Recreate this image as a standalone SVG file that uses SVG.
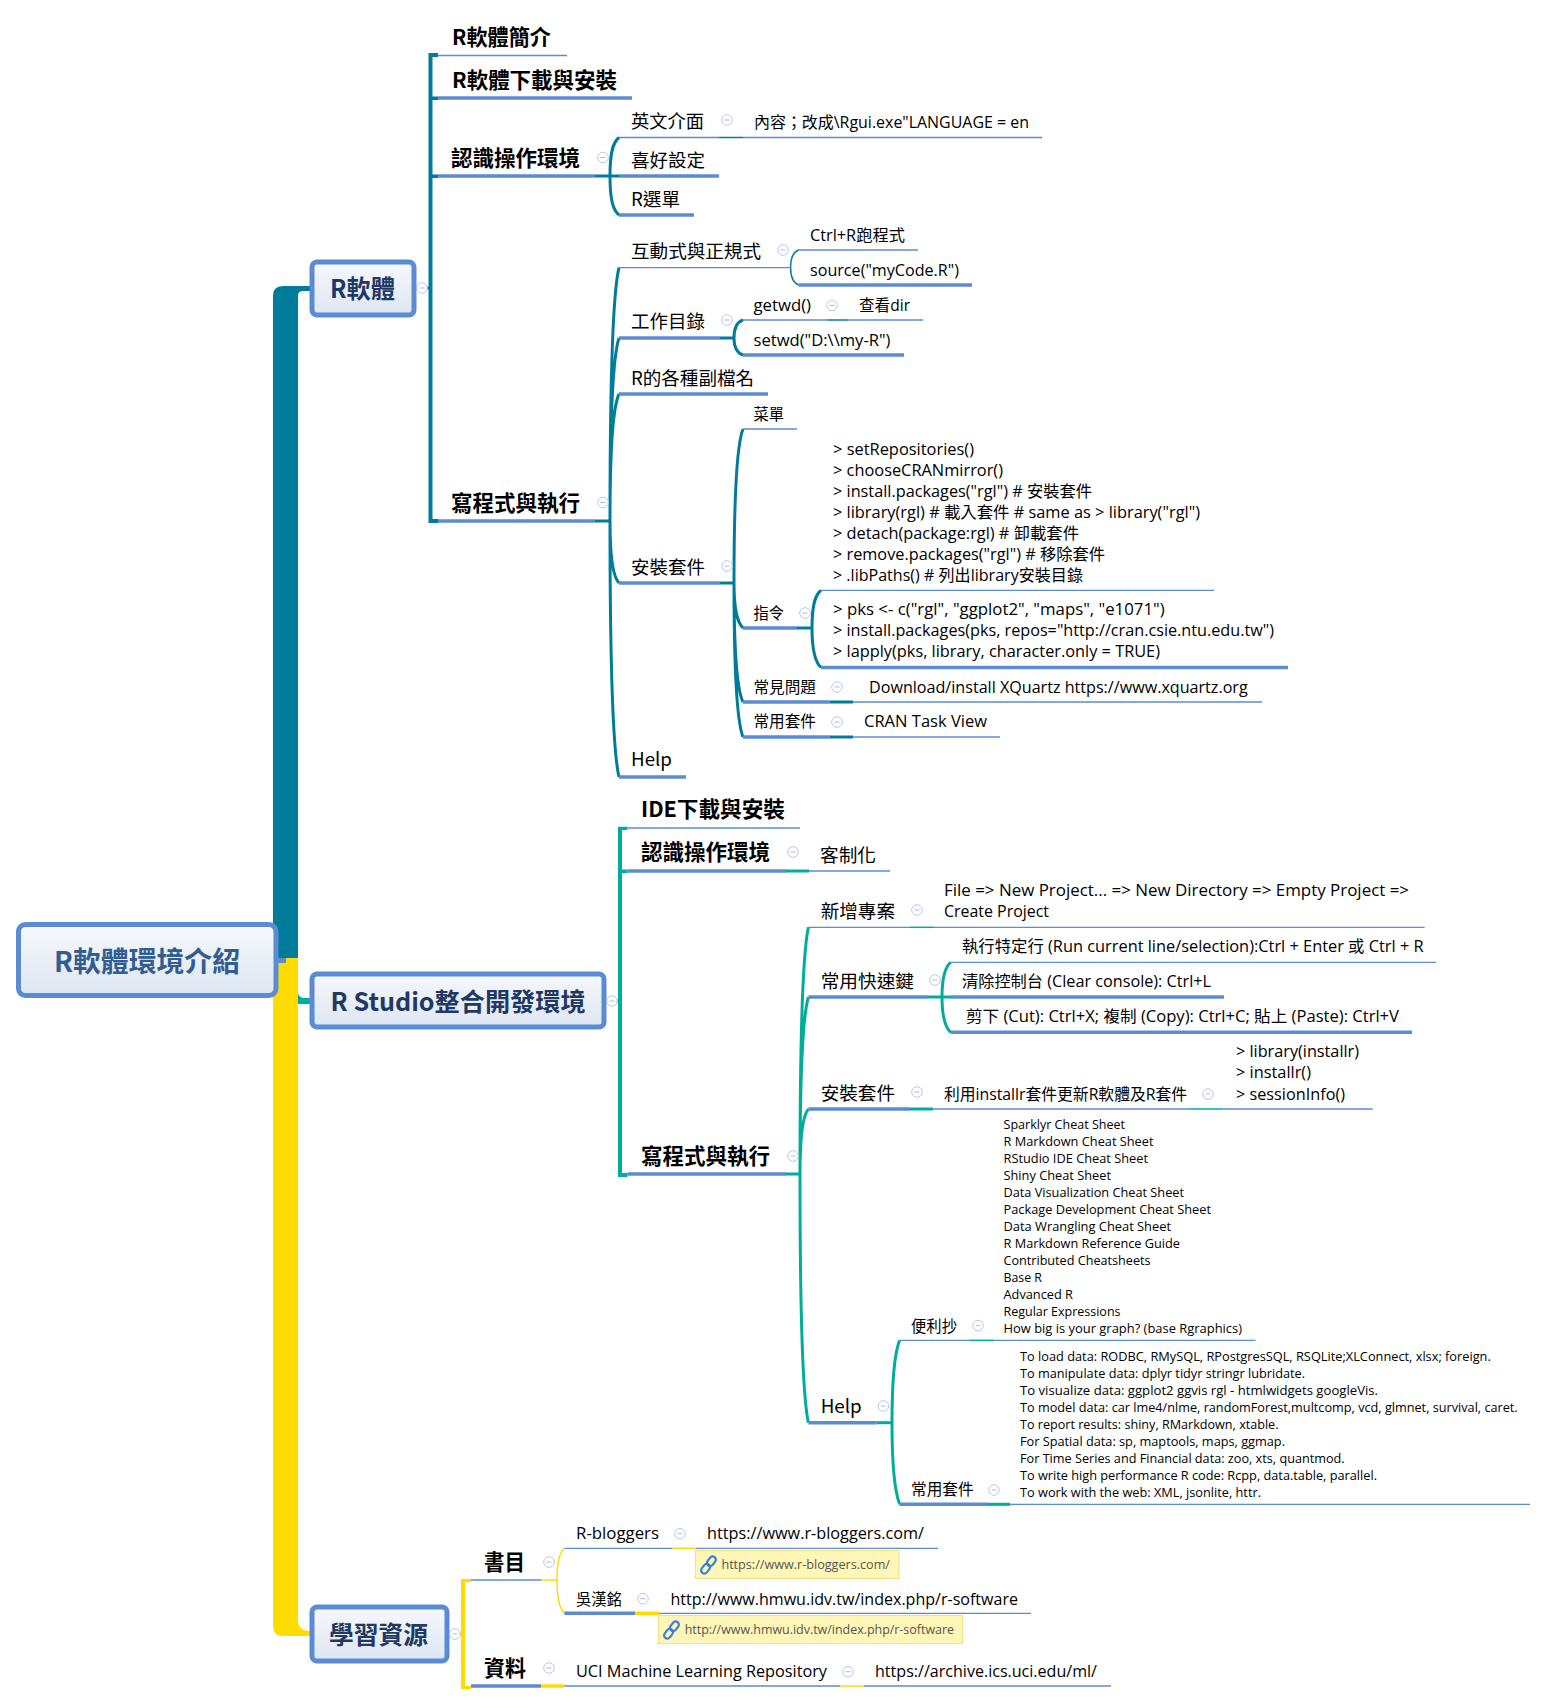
<svg xmlns="http://www.w3.org/2000/svg" width="1548" height="1704" viewBox="0 0 1548 1704">
<style>
text{font-family:"Open Sans","Noto Sans CJK TC","Noto Sans",sans-serif;fill:#000;transform:translate(-1px,-.5px)}
.h{font-size:21.5px;font-weight:700;font-family:"Noto Sans CJK TC","Noto Sans",sans-serif}
.m{font-size:18.5px;font-family:"Noto Sans CJK TC","Noto Sans",sans-serif}
.s{font-size:16px}
.x{font-size:13px;transform:translate(-1px,-1.2px)}
.r{font-weight:700;fill:#1f3864;font-size:25px;font-family:"Noto Sans CJK TC","Noto Sans",sans-serif}
.n{font-size:12.5px;fill:#555}
.b{fill:url(#bg);stroke:#5b8bd3;stroke-width:5}
.u,.U,.ct,.cg,.cy,.Ct,.Cg,.Cy{fill:none}
.u{stroke:#5b8bd3;stroke-width:1.3}
.U{stroke:#5b8bd3;stroke-width:3.4}
.ct{stroke:#007c9b;stroke-width:1.5}
.Ct{stroke:#007c9b;stroke-width:3}
.cg{stroke:#00ad9c;stroke-width:1.5}
.Cg{stroke:#00ad9c;stroke-width:3}
.cy{stroke:#ffdb00;stroke-width:1.5}
.Cy{stroke:#ffdb00;stroke-width:3.4}
.note{fill:#fff6b8;stroke:#f5df85;stroke-width:1}
</style>
<defs>
<linearGradient id="bg" x1="0" y1="0" x2="0" y2="1"><stop offset="0" stop-color="#f6f8fc"/><stop offset="1" stop-color="#dde6f2"/></linearGradient>
<g id="c"><circle r="5.3" fill="#fff" stroke="#b7c8ea" stroke-width="1"/><path d="M-2.5 0H2.5" stroke="#a9bce4" stroke-width="1"/></g>
<g id="link" fill="none" stroke="#3a80d8" stroke-width="2.2"><rect x="-3.2" y="-10" width="6.4" height="10.5" rx="3.2" transform="rotate(38)"/><rect x="-3.2" y="-.5" width="6.4" height="10.5" rx="3.2" transform="rotate(38)"/></g>
</defs>

<g id="connectors">
<path fill="#007c9b" d="M273 960V296Q273 286 283 286H310V291H303Q298 291 298 296V960Z"/>
<path fill="#ffdb00" d="M273 958H298V1620Q298 1631 310 1631V1636H283Q273 1636 273 1626Z"/>
<path fill="#00ad9c" d="M298 993Q299 998 305 998H311V1004H298Z"/>
<path fill="#5b8bd3" d="M277 958H286V963H277Z"/>
<path class="Ct" d="M416 288H430"/>
<path class="Cg" d="M606 1001H620"/>
<path class="Cy" d="M449 1634H463"/>
<!-- brackets -->
<path fill="#007c9b" d="M428.5 53H438V57H432.5V519H438V523H428.5Z"/>
<path fill="#007c9b" d="M432 96.5H438V100H432ZM432 174.5H438V178H432Z"/>
<path fill="#00ad9c" d="M618 826.7H627.5V830H622V1173H627.5V1177H618Z"/>
<path fill="#00ad9c" d="M621.5 869.5H627.5V873H621.5Z"/>
<path fill="#ffdb00" d="M461 1579H471V1582H465V1686H471V1689H461Z"/>
<!-- R 軟體 curves -->
<path class="Ct" d="M610 176C610 152 613 142 619 137.5M610 176C610 200 613 210 619 215"/>
<path class="Ct" d="M610 521C610 369 613 292 619 267.6M610 521C610 411 613 356 619 338M610 521C610 445 613 407 619 394M610 521C610 558 613 577 619 583M610 521C610 675 613 751 619 777"/>
<path class="ct" d="M790.6 267.6C790.6 257 793 252 798.7 250M790.6 267.6C790.6 277 793 283 798.7 285"/>
<path class="Ct" d="M734 338C734 327 737 322 743 320M734 338C734 348 737 353 743 355"/>
<path class="Ct" d="M734 583C734 491 737 444 743 429M734 583C734 610 737 622 743 628M734 583C734 654 737 690 743 702M734 583C734 675 737 722 743 737"/>
<path class="Ct" d="M812 628C812 605 815 595 821 590.4M812 628C812 650 815 662 821 667.5"/>
<!-- R Studio curves -->
<path class="Cg" d="M800 1174C800 1026 803 952 808.4 927.3M800 1174C800 1068 803 1015 808.4 997M800 1174C800 1135 803 1115 808.4 1109M800 1174C800 1323 803 1398 808.4 1422.7"/>
<path class="Cg" d="M942 997C942 977 945 967 950.6 962.3M942 997C942 1017 945 1027 950.6 1032.3"/>
<path class="Cg" d="M892 1423C892 1375 895 1352 899.6 1340.3M892 1423C892 1470 895 1492 899.6 1504.3"/>
<!-- 學習資源 curves -->
<path class="cy" d="M557 1580C557 1562 560 1552 564.4 1548.3M557 1580C557 1598 560 1609 564.4 1613.3"/>
</g>

<g id="root"><rect class="b" x="18.5" y="924.5" width="257.5" height="71" rx="7"/><text x="55" y="972" style="font-size:28px;font-weight:700;fill:#335c8f;font-family:'Noto Sans CJK TC',sans-serif" textLength="186" lengthAdjust="spacingAndGlyphs">R軟體環境介紹</text></g>

<g id="n-r"><rect class="b" x="312" y="262" width="102" height="53" rx="5"/><text class="r" x="331" y="298" textLength="65" lengthAdjust="spacingAndGlyphs">R軟體</text><use href="#c" x="422" y="288"/></g>
<g id="n-rstudio"><rect class="b" x="312" y="974" width="292" height="53" rx="5"/><text class="r" x="331.6" y="1011.5" textLength="255" lengthAdjust="spacingAndGlyphs">R Studio整合開發環境</text><use href="#c" x="612" y="1001"/></g>
<g id="n-learn"><rect class="b" x="312" y="1607" width="135" height="54" rx="5"/><text class="r" x="330" y="1644.5" textLength="99" lengthAdjust="spacingAndGlyphs">學習資源</text><use href="#c" x="455" y="1634"/></g>

<g id="n1"><text class="h" x="453" y="45" textLength="99" lengthAdjust="spacingAndGlyphs">R軟體簡介</text><path class="u" d="M438 55.5H567"/></g>
<g id="n2"><text class="h" x="453" y="88" textLength="165" lengthAdjust="spacingAndGlyphs">R軟體下載與安裝</text><path class="U" d="M438 98H632"/></g>
<g id="n3"><text class="h" x="452" y="166" textLength="129" lengthAdjust="spacingAndGlyphs">認識操作環境</text><path class="U" d="M438 176H595"/><path class="Ct" d="M595 176H619"/><use href="#c" x="603" y="157.5"/></g>
<g id="n4"><text class="h" x="452" y="511" textLength="129" lengthAdjust="spacingAndGlyphs">寫程式與執行</text><path class="U" d="M438 521H595"/><path class="Ct" d="M595 521H610"/><use href="#c" x="603" y="502.5"/></g>

<g id="n31"><text class="m" x="632" y="128.5" textLength="73" lengthAdjust="spacingAndGlyphs">英文介面</text><path class="u" d="M619 137.5H719"/><path class="ct" d="M719 137.5H743"/><use href="#c" x="727" y="120"/></g>
<g id="n311"><text class="s" x="755" y="128" textLength="275" lengthAdjust="spacingAndGlyphs">內容；改成\Rgui.exe"LANGUAGE = en</text><path class="u" d="M743 137.5H1042"/></g>
<g id="n32"><text class="m" x="632" y="167" textLength="74" lengthAdjust="spacingAndGlyphs">喜好設定</text><path class="U" d="M619 176H719"/></g>
<g id="n33"><text class="m" x="632" y="206" textLength="49" lengthAdjust="spacingAndGlyphs">R選單</text><path class="U" d="M619 215H694"/></g>

<g id="n41"><text class="m" x="632" y="258" textLength="130" lengthAdjust="spacingAndGlyphs">互動式與正規式</text><path class="u" d="M619 267.6H790.6"/><use href="#c" x="783" y="250"/></g>
<g id="n411"><text class="s" x="811" y="241" textLength="95" lengthAdjust="spacingAndGlyphs">Ctrl+R跑程式</text><path class="u" d="M798 250H918"/></g>
<g id="n412"><text class="s" x="811" y="276" textLength="149" lengthAdjust="spacingAndGlyphs">source("myCode.R")</text><path class="U" d="M798.7 285H972"/></g>
<g id="n42"><text class="m" x="632" y="328" textLength="74" lengthAdjust="spacingAndGlyphs">工作目錄</text><path class="U" d="M619 338H720"/><path class="Ct" d="M720 338H734"/><use href="#c" x="727" y="320"/></g>
<g id="n421"><text class="s" x="754.5" y="311" textLength="57.5" lengthAdjust="spacingAndGlyphs">getwd()</text><path class="u" d="M743 320H827"/><path class="ct" d="M827 320H848"/><use href="#c" x="832" y="305.5"/></g>
<g id="n4211"><text class="s" x="860" y="311" textLength="51" lengthAdjust="spacingAndGlyphs">查看dir</text><path class="u" d="M848 320H923"/></g>
<g id="n422"><text class="s" x="754.5" y="346" textLength="137" lengthAdjust="spacingAndGlyphs">setwd("D:\\my-R")</text><path class="U" d="M743 355H904"/></g>
<g id="n43"><text class="m" x="632" y="385" textLength="123" lengthAdjust="spacingAndGlyphs">R的各種副檔名</text><path class="U" d="M619 394H768"/></g>
<g id="n44"><text class="m" x="632" y="574.5" textLength="74" lengthAdjust="spacingAndGlyphs">安裝套件</text><path class="U" d="M619 583H720"/><path class="Ct" d="M720 583H734"/><use href="#c" x="727" y="566"/></g>
<g id="n441"><text class="s" x="754.5" y="420" textLength="30.5" lengthAdjust="spacingAndGlyphs">菜單</text><path class="u" d="M743 429H797"/></g>
<g id="n442"><text class="s" x="754.5" y="619" textLength="30.5" lengthAdjust="spacingAndGlyphs">指令</text><path class="U" d="M743 628H797"/><path class="Ct" d="M797 628H812"/><use href="#c" x="805" y="613"/></g>
<g id="n4421">
<text class="s" x="834" y="455" textLength="141" lengthAdjust="spacingAndGlyphs">&gt; setRepositories()</text>
<text class="s" x="834" y="476" textLength="170" lengthAdjust="spacingAndGlyphs">&gt; chooseCRANmirror()</text>
<text class="s" x="834" y="497" textLength="259" lengthAdjust="spacingAndGlyphs">&gt; install.packages("rgl") # 安裝套件</text>
<text class="s" x="834" y="518" textLength="367" lengthAdjust="spacingAndGlyphs">&gt; library(rgl) # 載入套件 # same as &gt; library("rgl")</text>
<text class="s" x="834" y="539" textLength="246" lengthAdjust="spacingAndGlyphs">&gt; detach(package:rgl) # 卸載套件</text>
<text class="s" x="834" y="560" textLength="272" lengthAdjust="spacingAndGlyphs">&gt; remove.packages("rgl") # 移除套件</text>
<text class="s" x="834" y="581" textLength="250" lengthAdjust="spacingAndGlyphs">&gt; .libPaths() # 列出library安裝目錄</text>
<path class="u" d="M821 590.4H1214"/></g>
<g id="n4422">
<text class="s" x="834" y="615.5" textLength="331.6" lengthAdjust="spacingAndGlyphs">&gt; pks &lt;- c("rgl", "ggplot2", "maps", "e1071")</text>
<text class="s" x="834" y="636.5" textLength="441" lengthAdjust="spacingAndGlyphs">&gt; install.packages(pks, repos="http://cran.csie.ntu.edu.tw")</text>
<text class="s" x="834" y="657.5" textLength="327" lengthAdjust="spacingAndGlyphs">&gt; lapply(pks, library, character.only = TRUE)</text>
<path class="U" d="M821 667.5H1288"/></g>
<g id="n443"><text class="s" x="754.5" y="693" textLength="62.5" lengthAdjust="spacingAndGlyphs">常見問題</text><path class="U" d="M743 702H829.5"/><path class="Ct" d="M829.5 702H853"/><use href="#c" x="837" y="687"/></g>
<g id="n4431"><text class="s" x="870" y="693" textLength="378.7" lengthAdjust="spacingAndGlyphs">Download/install XQuartz https://www.xquartz.org</text><path class="u" d="M853 702H1262"/></g>
<g id="n444"><text class="s" x="754.5" y="727" textLength="62.5" lengthAdjust="spacingAndGlyphs">常用套件</text><path class="U" d="M743 737H829.5"/><path class="Ct" d="M829.5 737H853"/><use href="#c" x="837" y="722"/></g>
<g id="n4441"><text class="s" x="865" y="727" textLength="123" lengthAdjust="spacingAndGlyphs">CRAN Task View</text><path class="u" d="M853 737H1000"/></g>
<g id="n45"><text class="m" x="632" y="766.5" textLength="41" lengthAdjust="spacingAndGlyphs">Help</text><path class="U" d="M619 777H686"/></g>

<g id="s1"><text class="h" x="642" y="817" textLength="144" lengthAdjust="spacingAndGlyphs">IDE下載與安裝</text><path class="u" d="M627.5 828H800"/></g>
<g id="s2"><text class="h" x="642" y="860" textLength="129" lengthAdjust="spacingAndGlyphs">認識操作環境</text><path class="U" d="M627.5 871H786"/><path class="Cg" d="M786 871H809"/><use href="#c" x="793" y="852"/></g>
<g id="s21"><text class="m" x="821" y="862" textLength="56" lengthAdjust="spacingAndGlyphs">客制化</text><path class="u" d="M809 871H890"/></g>
<g id="s3"><text class="h" x="642" y="1164.5" textLength="129" lengthAdjust="spacingAndGlyphs">寫程式與執行</text><path class="U" d="M627.5 1174H786"/><path class="Cg" d="M786 1174H800"/><use href="#c" x="793" y="1156"/></g>

<g id="s31"><text class="m" x="821.7" y="918" textLength="74.3" lengthAdjust="spacingAndGlyphs">新增專案</text><path class="u" d="M808.4 927.3H910"/><path class="cg" d="M910 927.3H933"/><use href="#c" x="917" y="910"/></g>
<g id="s311"><text class="s" x="945" y="896" textLength="465" lengthAdjust="spacingAndGlyphs">File =&gt; New Project... =&gt; New Directory =&gt; Empty Project =&gt;</text><text class="s" x="945" y="917" textLength="105" lengthAdjust="spacingAndGlyphs">Create Project</text><path class="u" d="M933 927.3H1424.6"/></g>
<g id="s32"><text class="m" x="821.7" y="988" textLength="93.3" lengthAdjust="spacingAndGlyphs">常用快速鍵</text><path class="U" d="M808.4 997H927"/><path class="Cg" d="M927 997H951"/><use href="#c" x="935" y="980"/></g>
<g id="s321"><text class="s" x="963" y="952.5" textLength="461.6" lengthAdjust="spacingAndGlyphs">執行特定行 (Run current line/selection):Ctrl + Enter 或 Ctrl + R</text><path class="u" d="M950.6 962.3H1436"/></g>
<g id="s322"><text class="s" x="963" y="987.5" textLength="249" lengthAdjust="spacingAndGlyphs">清除控制台 (Clear console): Ctrl+L</text><path class="U" d="M951 997H1224"/></g>
<g id="s323"><text class="s" x="967" y="1022.5" textLength="433" lengthAdjust="spacingAndGlyphs">剪下 (Cut): Ctrl+X; 複制 (Copy): Ctrl+C; 貼上 (Paste): Ctrl+V</text><path class="U" d="M950.6 1032.3H1412"/></g>
<g id="s33"><text class="m" x="821.7" y="1100" textLength="74.3" lengthAdjust="spacingAndGlyphs">安裝套件</text><path class="U" d="M808.4 1109H909"/><path class="Cg" d="M909 1109H933"/><use href="#c" x="917" y="1092"/></g>
<g id="s331"><text class="s" x="945" y="1100" textLength="243" lengthAdjust="spacingAndGlyphs">利用installr套件更新R軟體及R套件</text><path class="u" d="M933 1109H1188"/><path class="cg" d="M1188 1109H1223.6"/><use href="#c" x="1208" y="1094"/></g>
<g id="s3311"><text class="s" x="1237" y="1057.5" textLength="123" lengthAdjust="spacingAndGlyphs">&gt; library(installr)</text><text class="s" x="1237" y="1078.5" textLength="75" lengthAdjust="spacingAndGlyphs">&gt; installr()</text><text class="s" x="1237" y="1100" textLength="109" lengthAdjust="spacingAndGlyphs">&gt; sessionInfo()</text><path class="u" d="M1223.6 1109H1372.6"/></g>
<g id="s34"><text class="m" x="821.7" y="1413" textLength="41" lengthAdjust="spacingAndGlyphs">Help</text><path class="U" d="M808.4 1422.7H876.6"/><path class="Cg" d="M876.6 1422.7H892"/><use href="#c" x="883.4" y="1406"/></g>
<g id="s341"><text class="s" x="912" y="1332" textLength="46" lengthAdjust="spacingAndGlyphs">便利抄</text><path class="u" d="M899.6 1340.3H970"/><path class="cg" d="M970 1340.3H994"/><use href="#c" x="978" y="1325.7"/></g>
<g id="s3411">
<text class="x" x="1004.5" y="1130.5" textLength="121.5" lengthAdjust="spacingAndGlyphs">Sparklyr Cheat Sheet</text>
<text class="x" x="1004.5" y="1147.5" textLength="150" lengthAdjust="spacingAndGlyphs">R Markdown Cheat Sheet</text>
<text class="x" x="1004.5" y="1164.5" textLength="144.5" lengthAdjust="spacingAndGlyphs">RStudio IDE Cheat Sheet</text>
<text class="x" x="1004.5" y="1181.5" textLength="107.5" lengthAdjust="spacingAndGlyphs">Shiny Cheat Sheet</text>
<text class="x" x="1004.5" y="1198.5" textLength="180.5" lengthAdjust="spacingAndGlyphs">Data Visualization Cheat Sheet</text>
<text class="x" x="1004.5" y="1215.5" textLength="207.5" lengthAdjust="spacingAndGlyphs">Package Development Cheat Sheet</text>
<text class="x" x="1004.5" y="1232.5" textLength="167.5" lengthAdjust="spacingAndGlyphs">Data Wrangling Cheat Sheet</text>
<text class="x" x="1004.5" y="1249.5" textLength="176.5" lengthAdjust="spacingAndGlyphs">R Markdown Reference Guide</text>
<text class="x" x="1004.5" y="1266.5" textLength="147" lengthAdjust="spacingAndGlyphs">Contributed Cheatsheets</text>
<text class="x" x="1004.5" y="1283.5" textLength="38.5" lengthAdjust="spacingAndGlyphs">Base R</text>
<text class="x" x="1004.5" y="1300.5" textLength="69.5" lengthAdjust="spacingAndGlyphs">Advanced R</text>
<text class="x" x="1004.5" y="1317.5" textLength="117" lengthAdjust="spacingAndGlyphs">Regular Expressions</text>
<text class="x" x="1004.5" y="1334.5" textLength="238.5" lengthAdjust="spacingAndGlyphs">How big is your graph? (base Rgraphics)</text>
<path class="u" d="M994 1340.3H1255.5"/></g>
<g id="s342"><text class="s" x="912" y="1495.5" textLength="62.6" lengthAdjust="spacingAndGlyphs">常用套件</text><path class="U" d="M899.6 1504.3H987"/><path class="Cg" d="M987 1504.3H1010"/><use href="#c" x="994" y="1490"/></g>
<g id="s3421">
<text class="x" x="1021" y="1362.5" textLength="470.8" lengthAdjust="spacingAndGlyphs">To load data: RODBC, RMySQL, RPostgresSQL, RSQLite;XLConnect, xlsx; foreign.</text>
<text class="x" x="1021" y="1379.5" textLength="285" lengthAdjust="spacingAndGlyphs">To manipulate data: dplyr tidyr stringr lubridate.</text>
<text class="x" x="1021" y="1396.5" textLength="358" lengthAdjust="spacingAndGlyphs">To visualize data: ggplot2 ggvis rgl - htmlwidgets googleVis.</text>
<text class="x" x="1021" y="1413.5" textLength="497.7" lengthAdjust="spacingAndGlyphs">To model data: car lme4/nlme, randomForest,multcomp, vcd, glmnet, survival, caret.</text>
<text class="x" x="1021" y="1430.5" textLength="258.5" lengthAdjust="spacingAndGlyphs">To report results: shiny, RMarkdown, xtable.</text>
<text class="x" x="1021" y="1447.5" textLength="265" lengthAdjust="spacingAndGlyphs">For Spatial data: sp, maptools, maps, ggmap.</text>
<text class="x" x="1021" y="1464.5" textLength="324.7" lengthAdjust="spacingAndGlyphs">For Time Series and Financial data: zoo, xts, quantmod.</text>
<text class="x" x="1021" y="1481.5" textLength="357" lengthAdjust="spacingAndGlyphs">To write high performance R code: Rcpp, data.table, parallel.</text>
<text class="x" x="1021" y="1498.5" textLength="241" lengthAdjust="spacingAndGlyphs">To work with the web: XML, jsonlite, httr.</text>
<path class="u" d="M1010 1504.3H1530"/></g>

<g id="l1"><text class="h" x="485" y="1570" textLength="41" lengthAdjust="spacingAndGlyphs">書目</text><path class="u" d="M471 1580H541"/><path class="cy" d="M541 1580H557"/><use href="#c" x="549" y="1562"/></g>
<g id="l11"><text class="s" x="577" y="1539" textLength="83" lengthAdjust="spacingAndGlyphs">R-bloggers</text><path class="u" d="M564.4 1548.3H672.5"/><path class="cy" d="M672.5 1548.3H696"/><use href="#c" x="680" y="1533.7"/></g>
<g id="l111"><text class="s" x="708" y="1539" textLength="217" lengthAdjust="spacingAndGlyphs">https://www.r-bloggers.com/</text><path class="u" d="M696 1548.3H938"/><rect class="note" x="695.5" y="1550.5" width="203.5" height="28"/><use href="#link" x="708.5" y="1565"/><text class="n" x="722.4" y="1569.5" textLength="168.6" lengthAdjust="spacingAndGlyphs">https://www.r-bloggers.com/</text></g>
<g id="l12"><text class="s" x="577" y="1605" textLength="46" lengthAdjust="spacingAndGlyphs">吳漢銘</text><path class="U" d="M564.4 1613.3H635"/><path class="Cy" d="M635 1613.3H659"/><use href="#c" x="643" y="1598.7"/></g>
<g id="l121"><text class="s" x="671.4" y="1605" textLength="347.6" lengthAdjust="spacingAndGlyphs">http://www.hmwu.idv.tw/index.php/r-software</text><path class="u" d="M659 1613.3H1031"/><rect class="note" x="658.5" y="1615.5" width="304" height="28"/><use href="#link" x="671.5" y="1630"/><text class="n" x="685.7" y="1634.5" textLength="269.3" lengthAdjust="spacingAndGlyphs">http://www.hmwu.idv.tw/index.php/r-software</text></g>
<g id="l2"><text class="h" x="485" y="1676" textLength="42" lengthAdjust="spacingAndGlyphs">資料</text><path class="U" d="M471 1686H541"/><path class="Cy" d="M541 1686H564.4"/><use href="#c" x="549" y="1668"/></g>
<g id="l21"><text class="s" x="577" y="1677" textLength="251" lengthAdjust="spacingAndGlyphs">UCI Machine Learning Repository</text><path class="u" d="M564.4 1686H840"/><path class="cy" d="M840 1686H864"/><use href="#c" x="848" y="1671.7"/></g>
<g id="l211"><text class="s" x="876" y="1677" textLength="222" lengthAdjust="spacingAndGlyphs">https://archive.ics.uci.edu/ml/</text><path class="u" d="M864 1686H1111"/></g>
</svg>
